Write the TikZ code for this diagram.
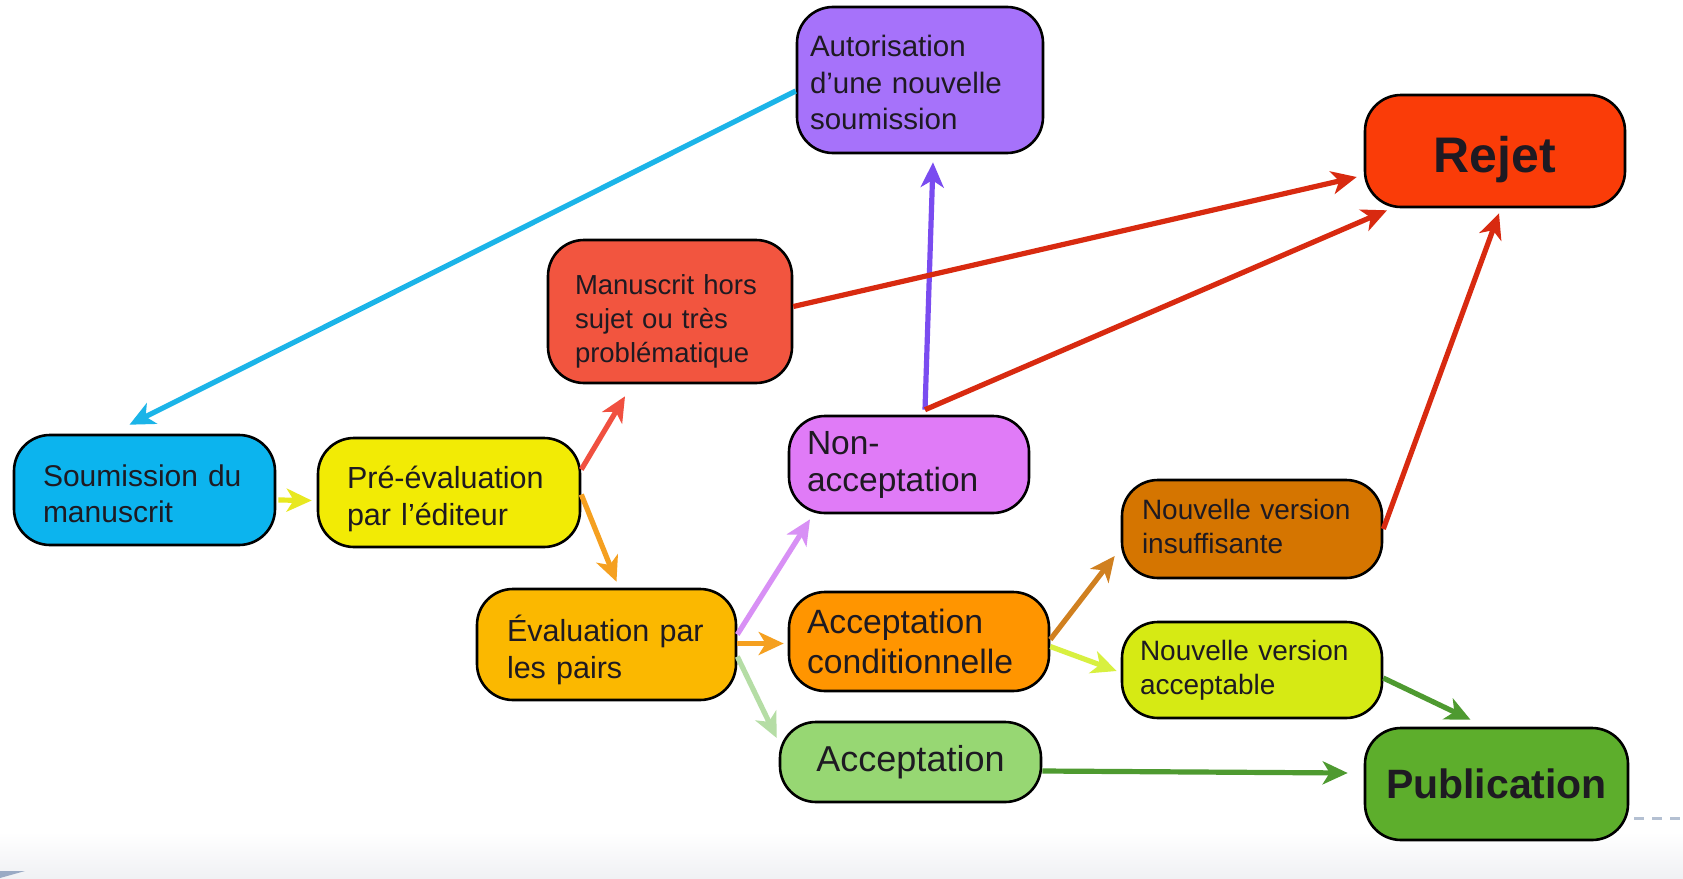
\documentclass[tikz,border=0pt]{standalone}
\usepackage{fontspec}
\setmainfont{Liberation Sans}
\usetikzlibrary{arrows.meta,calc}
\newcommand\tallrule[1]{\rule{0pt}{#1}}
\newcommand\deeprule[1]{\rule[-#1]{0pt}{#1}}
\definecolor{txt}{HTML}{1E1A22}
\definecolor{csou}{HTML}{0CB4EE}
\definecolor{cpre}{HTML}{F2EB05}
\definecolor{chs}{HTML}{F2553F}
\definecolor{caut}{HTML}{A672FA}
\definecolor{crej}{HTML}{FA3C08}
\definecolor{cnon}{HTML}{E07BF7}
\definecolor{ceva}{HTML}{FBB800}
\definecolor{cacc}{HTML}{FF9500}
\definecolor{cnvi}{HTML}{D57500}
\definecolor{cnva}{HTML}{D6EA14}
\definecolor{cacp}{HTML}{97D773}
\definecolor{cpub}{HTML}{5DAE2C}
\definecolor{acyan}{HTML}{1BB4E8}
\definecolor{ayel}{HTML}{E8E820}
\definecolor{atom}{HTML}{F05040}
\definecolor{aora}{HTML}{F5A020}
\definecolor{avio}{HTML}{D890F5}
\definecolor{alg}{HTML}{B5DDA5}
\definecolor{apur}{HTML}{7A4CF0}
\definecolor{ared}{HTML}{D82A10}
\definecolor{abro}{HTML}{D08020}
\definecolor{ayg}{HTML}{D8F040}
\definecolor{agr}{HTML}{4E9A30}
\definecolor{dashcol}{HTML}{B4C0D2}
\definecolor{cornercol}{HTML}{9AAAC4}
\begin{document}
\begin{tikzpicture}[x=1pt,y=-1pt,
  box/.style={draw=black, line width=2.6pt, rounded corners=36pt, text=txt, inner ysep=0pt},
  lb/.style 2 args={box, inner xsep=#1, text width=#2, align=left},
  cb/.style={box, inner sep=0pt, align=center},
  arr/.style={line width=5.2pt, -{Stealth[length=25pt,width=23pt,inset=7pt]}}]
\useasboundingbox (0,0) rectangle (1683,878);
\fill[white] (0,0) rectangle (1683,878);
\shade[top color=white, bottom color={rgb,255:red,240;green,241;blue,244}] (0,832) rectangle (1683,878);
\fill[cornercol] (0,871) -- (25,871) -- (0,878) -- cycle;

\node[lb={29pt}{203pt}, fill=csou, minimum height=110pt, font=\fontsize{30}{36}\selectfont] (sou) at (144.5,490) {\tallrule{30pt}Soumission du\\manuscrit};
\node[lb={29pt}{204pt}, fill=cpre, minimum height=109pt, font=\fontsize{30.5}{37.5}\selectfont] (pre) at (449,492.5) {\tallrule{35pt}Pré-évaluation\\par l’éditeur};
\node[lb={27pt}{190pt}, fill=chs, minimum height=143pt, font=\fontsize{27.5}{34}\selectfont] (hs) at (670,311.5) {\tallrule{39pt}Manuscrit hors\\sujet ou très\\problématique};
\node[lb={13pt}{220pt}, fill=caut, minimum height=146pt, font=\fontsize{29.5}{36.5}\selectfont] (aut) at (920,80) {\tallrule{27pt}Autorisation\\d’une nouvelle\\soumission};
\node[lb={18pt}{204pt}, fill=cnon, minimum height=97pt, font=\fontsize{33.5}{37}\selectfont] (non) at (909,464.5) {Non-\\acceptation};
\node[lb={30pt}{199pt}, fill=ceva, minimum height=111pt, font=\fontsize{30.5}{37}\selectfont] (eva) at (606.5,644.5) {\tallrule{37.5pt}Évaluation par\\les pairs};
\node[lb={18pt}{224pt}, fill=cacc, minimum height=99pt, font=\fontsize{33.7}{40}\selectfont] (acc) at (919,641.5) {Acceptation\\conditionnelle};
\node[lb={20pt}{220pt}, fill=cnvi, minimum height=98pt, font=\fontsize{28}{34}\selectfont] (nvi) at (1252,529) {Nouvelle version\\insuffisante\deeprule{6pt}};
\node[lb={18pt}{224pt}, fill=cnva, minimum height=96pt, font=\fontsize{28}{34}\selectfont] (nva) at (1252,670) {Nouvelle version\\acceptable};
\node[cb, fill=cacp, minimum width=261pt, minimum height=80pt, font=\fontsize{36}{40}\selectfont] (acp) at (910.5,762) {Acceptation};
\node[cb, fill=crej, minimum width=260pt, minimum height=112pt, text height=42pt, text depth=0pt, font=\fontsize{50}{56}\selectfont\bfseries] (rej) at (1495,151) {Rejet};
\node[cb, fill=cpub, minimum width=263pt, minimum height=112pt, font=\fontsize{41}{46}\selectfont\bfseries] (pub) at (1496.5,784) {Publication};

\draw[arr, acyan] ([yshift=-11pt]aut.west) -- ([xshift=-15pt,yshift=9pt]sou.north);
\draw[arr, ayel] ([xshift=2pt,yshift=-10pt]sou.east) -- ([xshift=-5pt,yshift=-8pt]pre.west);
\draw[arr, atom] ([yshift=23pt]pre.east) -- ([xshift=-45pt,yshift=-12pt]hs.south);
\draw[arr, aora] ([yshift=-2pt]pre.east) -- ([xshift=10pt,yshift=6pt]eva.north);
\draw[arr, avio] ([yshift=10pt]eva.east) -- ([xshift=-99pt,yshift=-5pt]non.south);
\draw[arr, aora] ([yshift=1pt]eva.east) -- ([xshift=-4pt,yshift=-2pt]acc.west);
\draw[arr, alg] ([yshift=-12pt]eva.east) -- ([xshift=-2pt,yshift=24pt]acp.west);
\draw[arr, apur] ([xshift=16pt,yshift=5pt]non.north) -- ([xshift=13pt,yshift=-8pt]aut.south);
\draw[arr, ared] ([xshift=16pt,yshift=5pt]non.north) -- ([xshift=-108pt,yshift=-2pt]rej.south);
\draw[arr, ared] ([yshift=5pt]hs.east) -- ([xshift=-7pt,yshift=-26pt]rej.west);
\draw[arr, ared] (nvi.east) -- ([xshift=4pt,yshift=-5pt]rej.south);
\draw[arr, abro] ([yshift=2pt]acc.east) -- ([xshift=-6pt,yshift=-27pt]nvi.west);
\draw[arr, ayg] ([yshift=-5pt]acc.east) -- ([xshift=-4pt,yshift=-1pt]nva.west);
\draw[arr, agr] ([yshift=-8pt]nva.east) -- ([xshift=-26pt,yshift=7pt]pub.north);
\draw[arr, agr] ([yshift=-9pt]acp.east) -- ([xshift=-16pt,yshift=11pt]pub.west);

\coordinate (dashend) at (1683,818);
\draw[dashcol, line width=3pt, dash pattern=on 10pt off 8pt] ([xshift=5pt,yshift=-34pt]pub.east) -- (dashend);
\end{tikzpicture}
\end{document}
